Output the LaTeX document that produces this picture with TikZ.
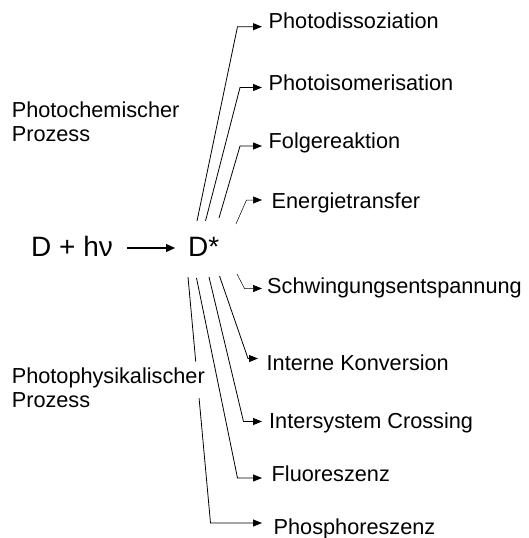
\documentclass[tikz,border=0pt]{standalone}
\usepackage{fontspec}
\setmainfont{Liberation Sans}
\usetikzlibrary{arrows.meta,calc}

\begin{document}
\begin{tikzpicture}[x=1pt,y=-1pt,
  lbl/.style={anchor=base west,inner sep=0pt,font=\fontsize{21.7}{24}\selectfont},
  eqn/.style={anchor=base west,inner sep=0pt,font=\fontsize{28}{32}\selectfont},
  tipstyle/.style={-{Triangle[length=9pt,width=7pt]}},
  conn/.style={line width=0.8pt,tipstyle},
  weak/.style={line width=0.5pt,tipstyle},
  bare/.style={line width=0.8pt},
  excite/.style={line width=1.3pt,-{Triangle[length=9pt,width=8pt]}},
]
\useasboundingbox (0,0) rectangle (528,538);

% reaction D + hv -> D*
\node[eqn] (dh) at (31,256) {D + hν};
\node[eqn] (ds) at (188,256) {D*};
\draw[excite] ($(dh.base east)+(14,-8)$) -- ($(ds.base west)+(-13,-8)$);

% process groups
\node[lbl] (pc1) at (11.6,117.3) {Photochemischer};
\node[lbl] (pc2) at (11.6,141) {Prozess};
\node[lbl] (pp1) at (11.6,383) {Photophysikalischer};
\node[lbl] (pp2) at (11.6,407.5) {Prozess};

% outcomes
\node[lbl] (pd)  at (268.5,28.5)  {Photodissoziation};
\node[lbl] (pi)  at (268.5,90.7)  {Photoisomerisation};
\node[lbl] (fr)  at (268.5,148.3) {Folgereaktion};
\node[lbl] (et)  at (271.5,208.3) {Energietransfer};
\node[lbl] (sw)  at (267,293.3)   {Schwingungsentspannung};
\node[lbl] (ik)  at (266.5,370)   {Interne Konversion};
\node[lbl] (isc) at (269,428)     {Intersystem Crossing};
\node[lbl] (fl)  at (271.5,481.3) {Fluoreszenz};
\node[lbl] (ph)  at (273.5,534.7) {Phosphoreszenz};

% column where the arrow tips end
\coordinate (tipx) at (262,0);

% photochemical branches
\coordinate (s1) at (197,221);   \coordinate (k1) at (237.5,26.7);
\coordinate (s2) at (205.5,221); \coordinate (k2) at (240,87.5);
\coordinate (s3) at (219,218);   \coordinate (k3) at (240,146);
\coordinate (s4) at (236,224);   \coordinate (k4) at (246.5,200);
\draw[conn] (s1) -- (k1) -- (k1 -| tipx);
\draw[conn] (s2) -- (k2) -- (k2 -| tipx);
\draw[conn] (s3) -- (k3) -- (k3 -| tipx);
\draw[weak] (s4) -- (k4) -- (k4 -| tipx);

% photophysical branches
\coordinate (s5) at (237,274);   \coordinate (k5) at (244.5,288.5);
\coordinate (s6) at (219.5,276); \coordinate (k6) at (248,358.5);
\coordinate (s7) at (209,277);   \coordinate (k7) at (243.5,421.5);
\coordinate (s8) at (196.5,278); \coordinate (k8) at (237.5,478);
\coordinate (s9) at (188,277);   \coordinate (k9) at (210.5,523);
\draw[weak] (s5) -- (k5) -- (k5 -| tipx);
\draw[conn] (s6) -- (k6) -- ++(10,0);
\draw[conn] (s7) -- (k7) -- (k7 -| tipx);
\draw[conn] (s8) -- (k8) -- (k8 -| tipx);
% the phosphorescence line breaks around the group label
\draw[bare] (s9) -- ($(s9)!0.344!(k9)$);
\draw[conn] ($(s9)!0.493!(k9)$) -- (k9) -- (k9 -| tipx);
\end{tikzpicture}
\end{document}
